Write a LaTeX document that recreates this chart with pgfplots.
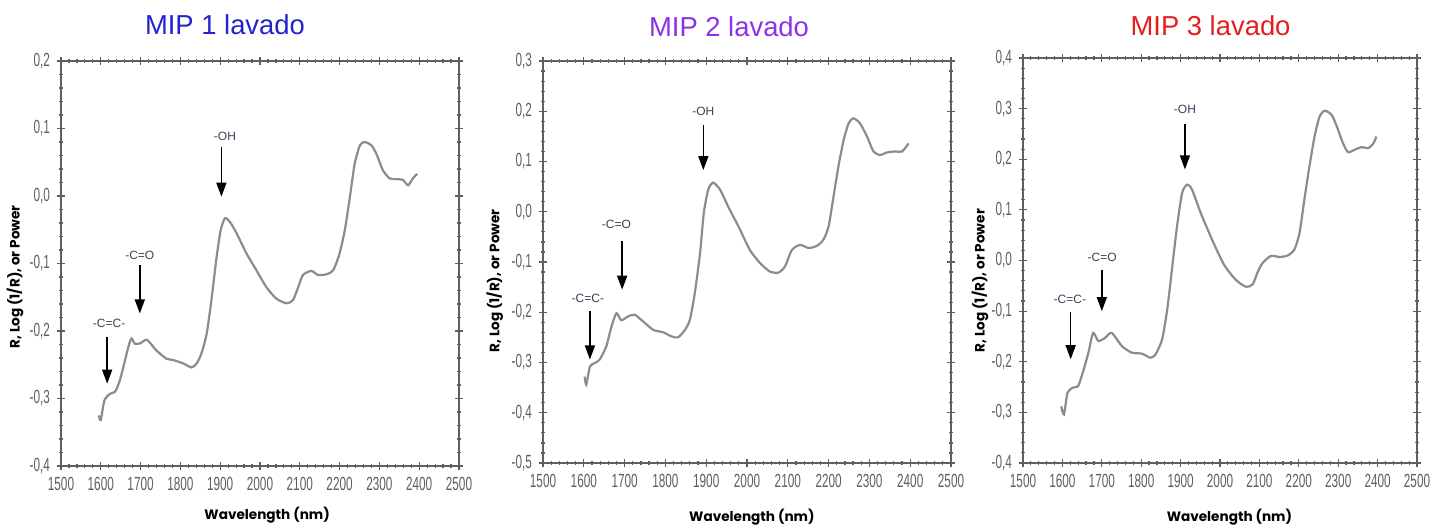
\documentclass[border=0pt]{standalone}
\usepackage{fontspec}
\setmainfont{Liberation Sans}
\newfontfamily\tickfont[FakeStretch=0.62]{Liberation Sans}
\newfontfamily\labfont{Poppins}
\usepackage{pgfplots}
\pgfplotsset{compat=1.18}
\usetikzlibrary{arrows.meta}
\definecolor{tone}{RGB}{35,35,205}
\definecolor{ttwo}{RGB}{140,50,230}
\definecolor{tthree}{RGB}{228,30,30}
\definecolor{curve}{RGB}{140,140,140}
\definecolor{frame}{RGB}{95,95,95}
\definecolor{anno}{RGB}{55,65,85}
\definecolor{tickc}{RGB}{95,95,95}

\tikzset{
 arr/.style={-{Triangle[width=5pt,length=7pt]}, black, line width=0.7pt},
 lab/.style={font=\fontsize{6}{6}\selectfont, text=anno},
 spec/.style={curve, line width=1.1pt, smooth, tension=0.4, mark=none},
}
\pgfplotsset{
 nir/.style={
  scale only axis,
  xmin=1500,xmax=2500,
  xtick={1500,1600,1700,1800,1900,2000,2100,2200,2300,2400,2500},
  minor x tick num=4,
  minor y tick num=4,
  axis line style={frame, line width=0.8pt},
  tick style={frame, line width=0.6pt},
  major tick length=4pt,
  minor tick length=2pt,
  tick align=center,
  /pgf/number format/assume math mode=true,
  ticklabel style={font=\tickfont\fontsize{9.5}{10}\selectfont, text=tickc},
  yticklabel style={/pgf/number format/.cd, fixed, fixed zerofill, precision=1, use comma},
  xticklabel style={/pgf/number format/.cd, set thousands separator={}},
  xlabel={Wavelength (nm)},
  ylabel={R, Log (1/R), or Power},
  xlabel style={font=\labfont\bfseries\fontsize{6.8}{8}\selectfont, anchor=center},
  ylabel style={font=\labfont\bfseries\fontsize{6.8}{8}\selectfont, anchor=center},
  title style={font=\fontsize{13.7}{15}\selectfont, anchor=center, yshift=-6pt},
 },
}

\begin{document}
\begin{tikzpicture}
\useasboundingbox (0,0) rectangle (715.5pt,263.5pt);

% Panel 1
\begin{axis}[nir, at={(30.5pt,30.5pt)}, anchor=south west,
  width=199pt, height=202.5pt,
  ymin=-0.4, ymax=0.2, ytick={-0.4,-0.3,-0.2,-0.1,0,0.1,0.2},
  title={\textcolor{tone}{MIP 1 lavado}},
  title style={at={(rel axis cs:0.412,1.089)}},
  xlabel style={at={(rel axis cs:0.518,-0.121)}},
  ylabel style={at={(rel axis cs:-0.1156,0.467)}}]
\addplot[spec] coordinates {
(1595,-0.325) (1600,-0.332) (1609,-0.303) (1623,-0.293) (1636,-0.290)
(1648,-0.273) (1661,-0.243) (1669,-0.224) (1677,-0.211) (1686,-0.219)
(1700,-0.218) (1716,-0.213) (1740,-0.229) (1765,-0.241) (1782,-0.243)
(1807,-0.248) (1828,-0.254) (1841,-0.248) (1853,-0.233) (1866,-0.204)
(1878,-0.154) (1890,-0.095) (1901,-0.051) (1912,-0.033) (1924,-0.038)
(1941,-0.055) (1966,-0.085) (1991,-0.110) (2016,-0.135) (2041,-0.152)
(2067,-0.159) (2083,-0.154) (2096,-0.135) (2108,-0.117) (2129,-0.111)
(2146,-0.117) (2167,-0.116) (2184,-0.110) (2200,-0.085) (2213,-0.051)
(2226,-0.001) (2238,0.048) (2251,0.075) (2263,0.080) (2280,0.075)
(2292,0.063) (2309,0.038) (2326,0.026) (2343,0.025) (2359,0.024)
(2372,0.016) (2384,0.026) (2395,0.033)
};
\draw[arr] (axis cs:1903,0.073) -- (axis cs:1903,-0.001);
\node[lab] at (axis cs:1912,0.088) {-OH};
\draw[arr] (axis cs:1698,-0.102) -- (axis cs:1698,-0.174);
\node[lab] at (axis cs:1698,-0.088) {-C=O};
\draw[arr] (axis cs:1616,-0.209) -- (axis cs:1616,-0.278);
\node[lab] at (axis cs:1621,-0.189) {-C=C-};
\end{axis}

% Panel 2
\begin{axis}[nir, at={(271.5pt,32pt)}, anchor=south west,
  width=204pt, height=201pt,
  ymin=-0.5, ymax=0.3, ytick={-0.5,-0.4,-0.3,-0.2,-0.1,0,0.1,0.2,0.3},
  title={\textcolor{ttwo}{MIP 2 lavado}},
  title style={at={(rel axis cs:0.456,1.085)}},
  xlabel style={at={(rel axis cs:0.512,-0.134)}},
  ylabel style={at={(rel axis cs:-0.118,0.453)}}]
\addplot[spec] coordinates {
(1602,-0.328) (1606,-0.344) (1615,-0.308) (1627,-0.301) (1639,-0.294)
(1655,-0.268) (1668,-0.228) (1680,-0.202) (1692,-0.216) (1709,-0.208)
(1725,-0.205) (1745,-0.218) (1770,-0.235) (1795,-0.240) (1815,-0.248)
(1831,-0.250) (1848,-0.235) (1860,-0.215) (1872,-0.162) (1885,-0.082)
(1894,-0.003) (1905,0.044) (1917,0.058) (1934,0.044) (1954,0.010)
(1979,-0.029) (2007,-0.076) (2032,-0.102) (2056,-0.119) (2077,-0.121)
(2093,-0.109) (2110,-0.076) (2130,-0.066) (2151,-0.072) (2171,-0.068)
(2187,-0.056) (2200,-0.029) (2212,0.030) (2224,0.090) (2237,0.143)
(2249,0.176) (2261,0.186) (2277,0.176) (2294,0.150) (2310,0.120)
(2326,0.113) (2343,0.118) (2363,0.120) (2380,0.120) (2396,0.136)
};
\draw[arr] (axis cs:1893,0.173) -- (axis cs:1893,0.083);
\node[lab] at (axis cs:1893,0.199) {-OH};
\draw[arr] (axis cs:1694,-0.059) -- (axis cs:1694,-0.155);
\node[lab] at (axis cs:1680,-0.026) {-C=O};
\draw[arr] (axis cs:1615,-0.198) -- (axis cs:1615,-0.294);
\node[lab] at (axis cs:1610,-0.172) {-C=C-};
\end{axis}

% Panel 3
\begin{axis}[nir, at={(511.5pt,32pt)}, anchor=south west,
  width=197pt, height=202.5pt,
  ymin=-0.4, ymax=0.4, ytick={-0.4,-0.3,-0.2,-0.1,0,0.1,0.2,0.3,0.4},
  title={\textcolor{tthree}{MIP 3 lavado}},
  title style={at={(rel axis cs:0.476,1.079)}},
  xlabel style={at={(rel axis cs:0.524,-0.134)}},
  ylabel style={at={(rel axis cs:-0.109,0.45)}}]
\addplot[spec] coordinates {
(1597,-0.288) (1604,-0.304) (1613,-0.261) (1627,-0.251) (1640,-0.248)
(1653,-0.218) (1666,-0.182) (1678,-0.143) (1691,-0.159) (1708,-0.153)
(1725,-0.143) (1751,-0.169) (1776,-0.182) (1802,-0.184) (1823,-0.192)
(1836,-0.186) (1853,-0.156) (1866,-0.097) (1878,-0.018) (1891,0.068)
(1904,0.134) (1917,0.150) (1929,0.140) (1951,0.094) (1980,0.041)
(2010,-0.008) (2040,-0.038) (2066,-0.052) (2083,-0.047) (2095,-0.024)
(2108,-0.005) (2129,0.009) (2151,0.007) (2172,0.010) (2189,0.022)
(2202,0.055) (2214,0.120) (2227,0.186) (2240,0.245) (2253,0.285)
(2266,0.296) (2283,0.288) (2295,0.268) (2312,0.232) (2325,0.214)
(2342,0.219) (2359,0.224) (2376,0.222) (2389,0.231) (2397,0.245)
};
\draw[arr] (axis cs:1911,0.270) -- (axis cs:1911,0.180);
\node[lab] at (axis cs:1911,0.298) {-OH};
\draw[arr] (axis cs:1700,-0.019) -- (axis cs:1700,-0.100);
\node[lab] at (axis cs:1701,0.007) {-C=O};
\draw[arr] (axis cs:1621,-0.101) -- (axis cs:1621,-0.195);
\node[lab] at (axis cs:1619,-0.076) {-C=C-};
\end{axis}
\end{tikzpicture}
\end{document}
